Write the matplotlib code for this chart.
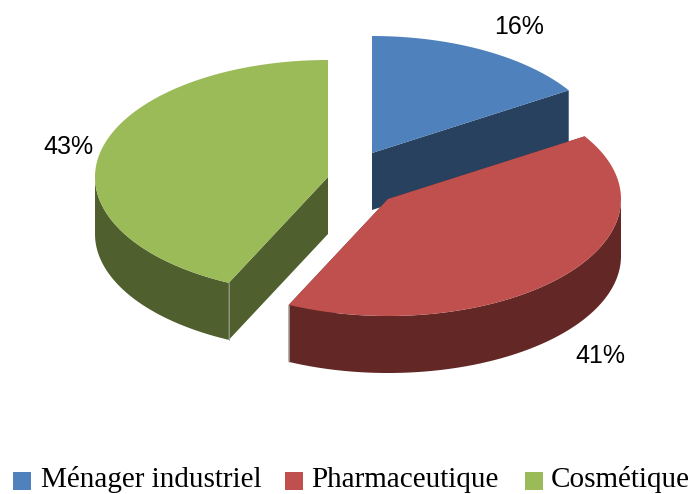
import numpy as np
import matplotlib.pyplot as plt
from matplotlib.patches import Polygon, Rectangle

#data of the chart
labels = ["Ménager industriel", "Pharmaceutique", "Cosmétique"]
values = [16, 41, 43]
value_labels = ["16%", "41%", "43%"]

#colours: top of the slice and side of the slice
top_colors = ["#4F81BD", "#C0504D", "#9BBB59"]
side_colors = ["#27415F", "#632826", "#4F5F2D"]

#geometry of the pie in pixels
centers = [(372, 153), (388, 199), (328, 177)]
rx = 233
ry = 117
depth = 57
label_pos = [(519, 27), (600, 356), (68, 147)]
legend_x = [(13, 41), (285, 311), (525, 551)]

fig = plt.figure(figsize=(6.93, 4.94), dpi=100)
ax = fig.add_axes([0, 0, 1, 1])
ax.set_xlim(0, 693)
ax.set_ylim(494, 0)
ax.axis("off")

#point of the ellipse for an angle measured clockwise from the top
def rim(center, a):
    return center[0] + rx*np.sin(a), center[1] - ry*np.cos(a)

#computing the angles of the slices
fractions = np.array(values)/sum(values)
ends = np.cumsum(fractions)*2*np.pi
starts = ends - fractions*2*np.pi

#drawing order: back slices first
for i in [0, 2, 1]:
    c = centers[i]
    a = np.linspace(starts[i], ends[i], 200)
    x, y = rim(c, a)

    #cut faces
    for k in [0, -1]:
        face = [c, (x[k], y[k]), (x[k], y[k]+depth), (c[0], c[1]+depth)]
        ax.add_patch(Polygon(face, closed=True, fc=side_colors[i], ec="none", zorder=1+i))

    #outer wall, only the part looking at the viewer
    front = np.cos(a) < 0
    if front.any():
        wx = x[front]
        wy = y[front]
        wall = np.concatenate([np.c_[wx, wy], np.c_[wx[::-1], wy[::-1]+depth]])
        ax.add_patch(Polygon(wall, closed=True, fc=side_colors[i], ec="none", zorder=1+i))

    #thin light line on the vertical corner, only on the front of the pie
    for k in [0, -1]:
        if np.cos(a[k]) < 0:
            ax.plot([x[k], x[k]], [y[k], y[k]+depth], color="#9A9F90", lw=0.6, zorder=1.2+i)

    #top of the slice
    top = np.concatenate([[c], np.c_[x, y]])
    ax.add_patch(Polygon(top, closed=True, fc=top_colors[i], ec="none", zorder=1.5+i))

    ax.text(label_pos[i][0], label_pos[i][1], value_labels[i], family="Liberation Sans",
            fontsize=18, color="black", ha="center", va="center", zorder=10)

#legend
for i in range(3):
    ax.add_patch(Rectangle((legend_x[i][0], 472), 18, 18, fc=top_colors[i], ec="none"))
    ax.text(legend_x[i][1], 487, labels[i], family="Liberation Serif", fontsize=21,
            color="black", ha="left", va="baseline")

fig.savefig("out.png", dpi=100)
